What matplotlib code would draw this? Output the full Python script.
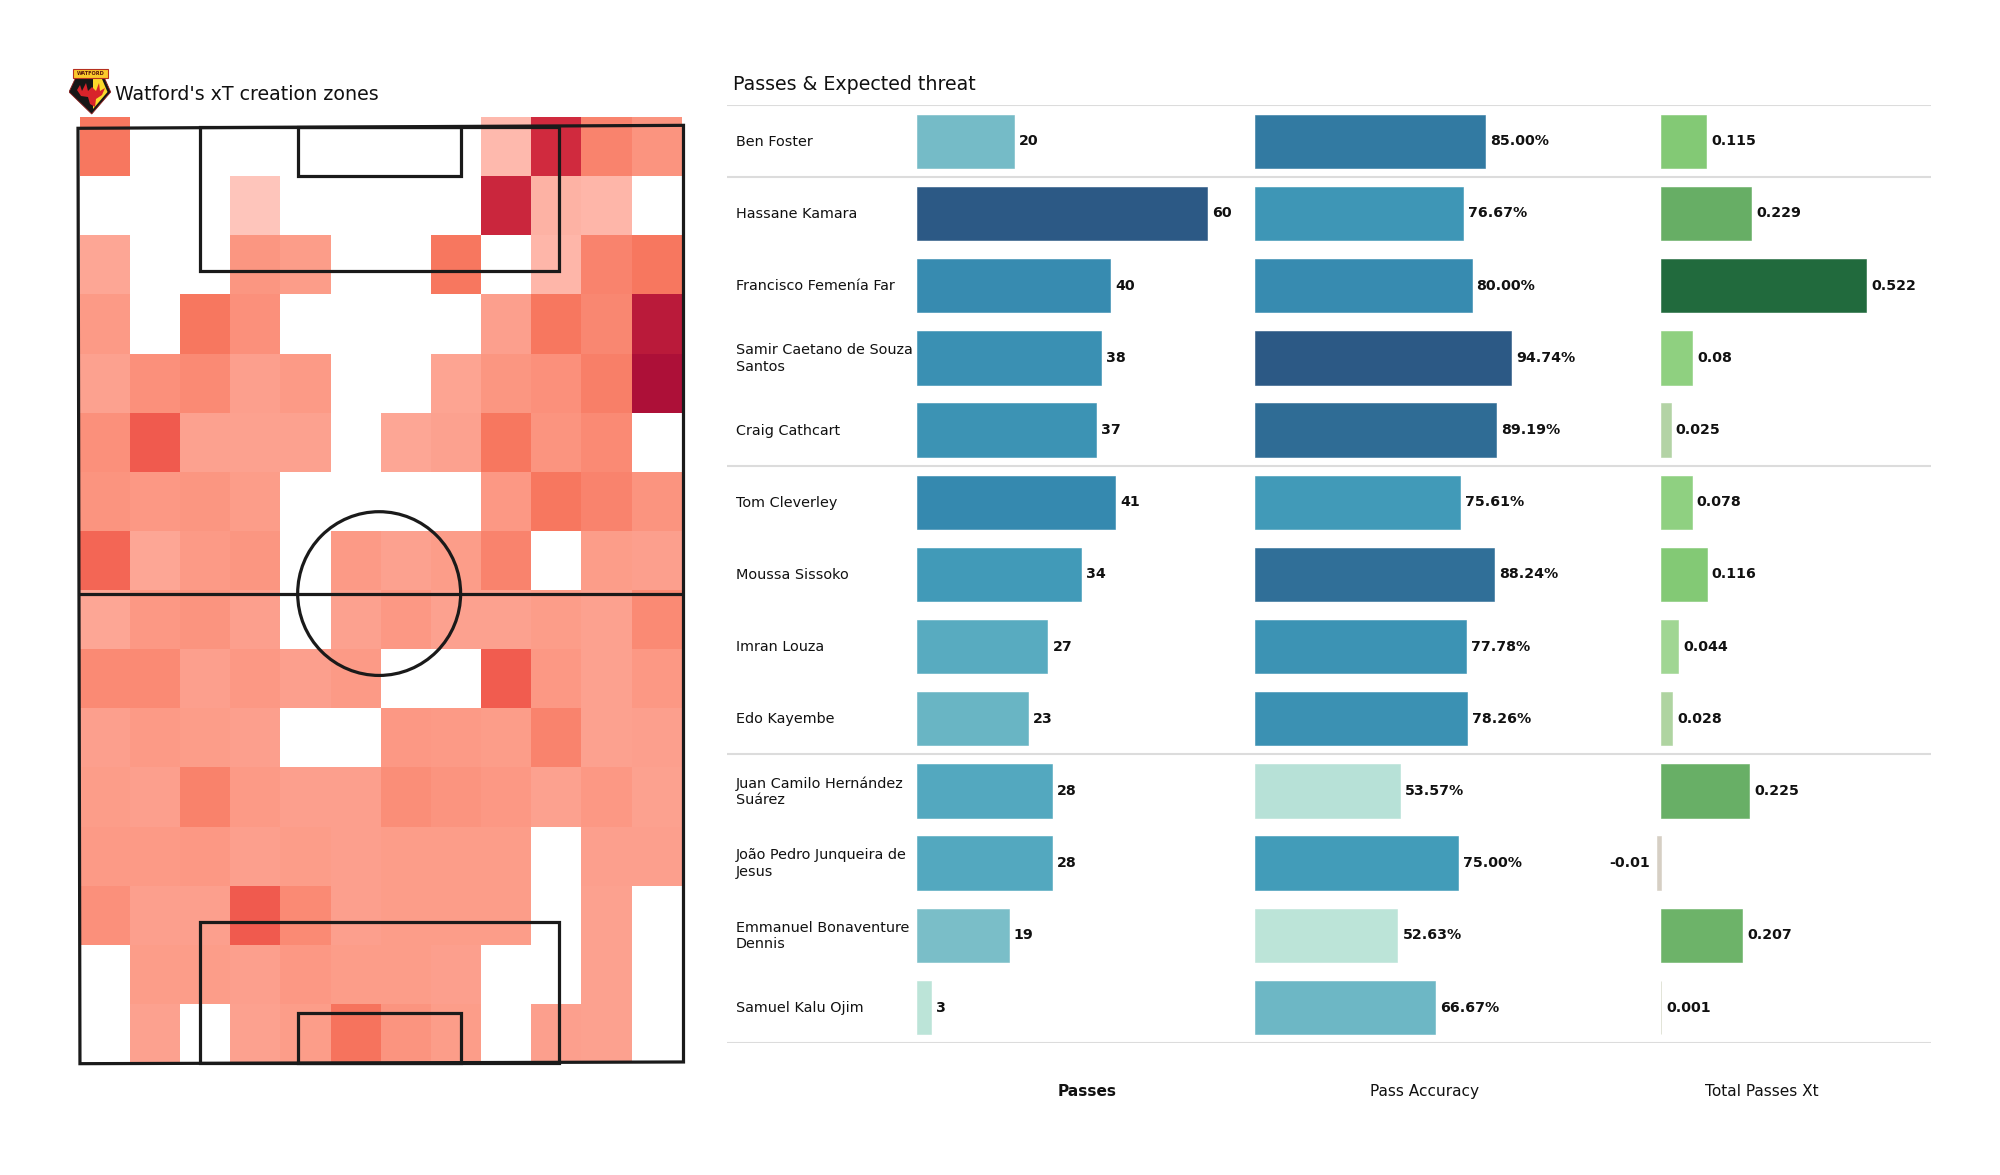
import numpy as np
import matplotlib
matplotlib.use('Agg')
import matplotlib.pyplot as plt
from matplotlib.colors import LinearSegmentedColormap
from matplotlib.patches import Rectangle, Ellipse, Polygon

players = ['Ben Foster', 'Hassane Kamara', 'Francisco Femenía Far',
           'Samir Caetano de Souza\nSantos', 'Craig Cathcart', 'Tom Cleverley',
           'Moussa Sissoko', 'Imran Louza', 'Edo Kayembe',
           'Juan Camilo Hernández\nSuárez', 'João Pedro Junqueira de\nJesus',
           'Emmanuel Bonaventure\nDennis', 'Samuel Kalu Ojim']
passes = [20, 60, 40, 38, 37, 41, 34, 27, 23, 28, 28, 19, 3]
accuracy = [85.00, 76.67, 80.00, 94.74, 89.19, 75.61, 88.24, 77.78, 78.26,
            53.57, 75.00, 52.63, 66.67]
xt = [0.115, 0.229, 0.522, 0.08, 0.025, 0.078, 0.116, 0.044, 0.028,
      0.225, -0.01, 0.207, 0.001]
column_titles = ['Passes', 'Pass Accuracy', 'Total Passes Xt']

n = np.nan
# xT zones, top row of the picture first, blank cells are nan
zones = np.array([
    [.42, n, n, n, n, n, n, n, .12, .82, .36, .28],
    [n, n, n, .08, n, n, n, n, .85, .15, .13, n],
    [.20, n, n, .27, .24, n, n, .42, n, .13, .36, .42],
    [.25, n, .42, .30, n, n, n, n, .23, .42, .34, .93],
    [.22, .30, .33, .23, .25, n, n, .21, .27, .30, .38, 1.0],
    [.30, .56, .22, .22, .22, n, .20, .22, .42, .28, .33, n],
    [.28, .26, .27, .24, n, n, n, n, .26, .42, .36, .28],
    [.50, .20, .25, .27, n, .25, .22, .24, .36, n, .24, .23],
    [.20, .26, .28, .23, n, .22, .26, .22, .22, .24, .22, .33],
    [.33, .33, .23, .26, .23, .25, n, n, .55, .26, .22, .26],
    [.23, .25, .24, .23, n, n, .26, .25, .24, .36, .22, .23],
    [.24, .23, .37, .25, .23, .23, .31, .28, .26, .22, .26, .22],
    [.25, .25, .26, .23, .24, .23, .24, .24, .24, n, .23, .23],
    [.30, .23, .23, .56, .33, .23, .24, .24, .24, n, .22, n],
    [n, .24, .24, .23, .26, .24, .24, .23, n, n, .22, n],
    [n, .22, n, .22, .24, .44, .28, .24, n, .23, .22, n],
])

W, H = 2000, 1175
fig = plt.figure(figsize=(W / 100, H / 100), dpi=100, facecolor='white')


def add_px_axes(x0, y0, x1, y1):
    # pixel box measured from the top left of the picture
    ax = fig.add_axes([x0 / W, 1 - y1 / H, (x1 - x0) / W, (y1 - y0) / H])
    ax.set_axis_off()
    return ax


heat_cmap = LinearSegmentedColormap.from_list('heat', [
    (0.0, '#ffe0da'), (0.1, '#febdb2'), (0.25, '#fc9a86'), (0.42, '#f7775f'),
    (0.56, '#f05a4e'), (0.82, '#d02a3e'), (1.0, '#ad1038')])
pass_cmap = LinearSegmentedColormap.from_list('passes', [
    (0.0, '#bce4d8'), (0.5, '#45a0bb'), (0.667, '#3589af'), (1.0, '#2c5985')])
xt_cmap = LinearSegmentedColormap.from_list('xt', [
    (0.0, '#d6cfc4'), (0.1, '#9fd692'), (0.2, '#87cd78'), (1.0, '#216a3d')])

# pitch, 68 x 105 with the heat grid overhanging slightly at the top
pitch = add_px_axes(78, 126.5, 683.5, 1066)
pitch.set_xlim(0, 68)
pitch.set_ylim(0, 105)
xedges = np.linspace(0.2, 67.8, zones.shape[1] + 1)
yedges = np.linspace(106.05, 0.33, zones.shape[0] + 1)
mesh = pitch.pcolormesh(xedges, yedges, zones, cmap=heat_cmap, vmin=0, vmax=1)
mesh.set_clip_on(False)

# the source pitch sits very slightly skewed
line = dict(fill=False, edgecolor='#1a1a1a', linewidth=2.3, zorder=3, clip_on=False)
pitch.add_patch(Polygon([(0, 104.8), (68, 105.13), (68, 0.45), (0.22, 0.26)], closed=True, **line))
pitch.plot([0, 68], [52.8, 52.8], color='#1a1a1a', lw=2.3, zorder=3)
pitch.add_patch(Ellipse((33.82, 52.8), 18.3, 18.3, **line))
pitch.add_patch(Rectangle((13.68, 105), 40.32, -16.2, **line))
pitch.add_patch(Rectangle((24.68, 105), 18.32, -5.5, **line))
pitch.add_patch(Rectangle((13.68, 0.3), 40.32, 15.8, **line))
pitch.add_patch(Rectangle((24.68, 0.3), 18.32, 5.6, **line))

# title and a rough club badge
fig.text(115 / W, 1 - 94 / H, "Watford's xT creation zones", fontsize=13.7,
         color='#111111', va='center', ha='left')
badge = add_px_axes(69, 66, 112, 116)
badge.set_xlim(0, 43)
badge.set_ylim(50, 0)
badge.add_patch(Polygon([(0, 26), (7, 11), (35, 11), (41.7, 26), (22.7, 48)],
                        facecolor='#161616', edgecolor='#8a1c1c', lw=0.6))
badge.add_patch(Polygon([(24, 13), (33, 13), (38.5, 26), (24, 43)], facecolor='#fbd92b'))
badge.add_patch(Polygon([(8, 24), (11, 19), (13, 25), (17, 17), (19, 25), (23, 21), (27, 25),
                         (30, 17), (31, 25), (36, 22), (33, 29), (27, 33), (26, 41), (21, 38),
                         (19, 31), (12, 30)], facecolor='#d8232a'))
badge.add_patch(Rectangle((3.7, 3), 35.3, 8.5, facecolor='#fbc92b', edgecolor='#b5301f', lw=0.8))
badge.text(21.3, 7.4, 'WATFORD', fontsize=3.6, fontweight='bold', color='#5a140c',
           ha='center', va='center')

# table: one row per player, separators between position groups
top, bottom = 104.6, 1043
table = add_px_axes(727, top, 1931, bottom)
table.set_xlim(0, 1)
table.set_ylim(len(players) - 0.5, -0.5)
for y in [-0.5, 0.5, 4.5, 8.5, 12.5]:
    table.axhline(y, color='#dcdcdc', lw=1.5)
for i, name in enumerate(players):
    table.text(9 / 1204, i + 0.018, name, fontsize=10.4, color='#111111', va='center',
               ha='left', linespacing=1.25)
fig.text(733 / W, 1 - 84 / H, 'Passes & Expected threat', fontsize=13.7,
         color='#111111', va='center', ha='left')


def draw_column(x0, x1, px_per_unit, values, cmap, labels):
    ax = add_px_axes(x0, top + 0.6, x1, bottom + 0.6)
    ax.set_xlim(0, (x1 - x0) / px_per_unit)
    ax.set_ylim(len(values) - 0.5, -0.5)
    vals = np.array(values, dtype=float)
    colors = cmap((vals - vals.min()) / (vals.max() - vals.min()))
    # thin same colour edge so the 0.001 bar still shows
    ax.barh(range(len(vals)), vals, height=0.74, color=colors, edgecolor=colors,
            linewidth=0.4, clip_on=False)
    for i, (v, lab) in enumerate(zip(vals, labels)):
        off = 5 if v >= 0 else -7
        ax.annotate(lab, (v, i), xytext=(off * 0.72, 0), textcoords='offset points',
                    fontsize=10.2, fontweight='bold', color='#111111', va='center',
                    ha='left' if v >= 0 else 'right', annotation_clip=False)
    return ax


draw_column(917, 1250, 4.83, passes, pass_cmap, [str(v) for v in passes])
draw_column(1255, 1650, 2.707, accuracy, pass_cmap, [f'{v:.2f}%' for v in accuracy])
draw_column(1661, 1931, 393, xt, xt_cmap, [f'{v:g}' for v in xt])

for label, cx, weight in zip(column_titles, [1087, 1424.7, 1761.5], ['bold', 'normal', 'normal']):
    fig.text(cx / W, 1 - 1091.5 / H, label, fontsize=11.1, fontweight=weight,
             color='#111111', ha='center', va='center')

fig.savefig('out.png', dpi=100, facecolor='white')
